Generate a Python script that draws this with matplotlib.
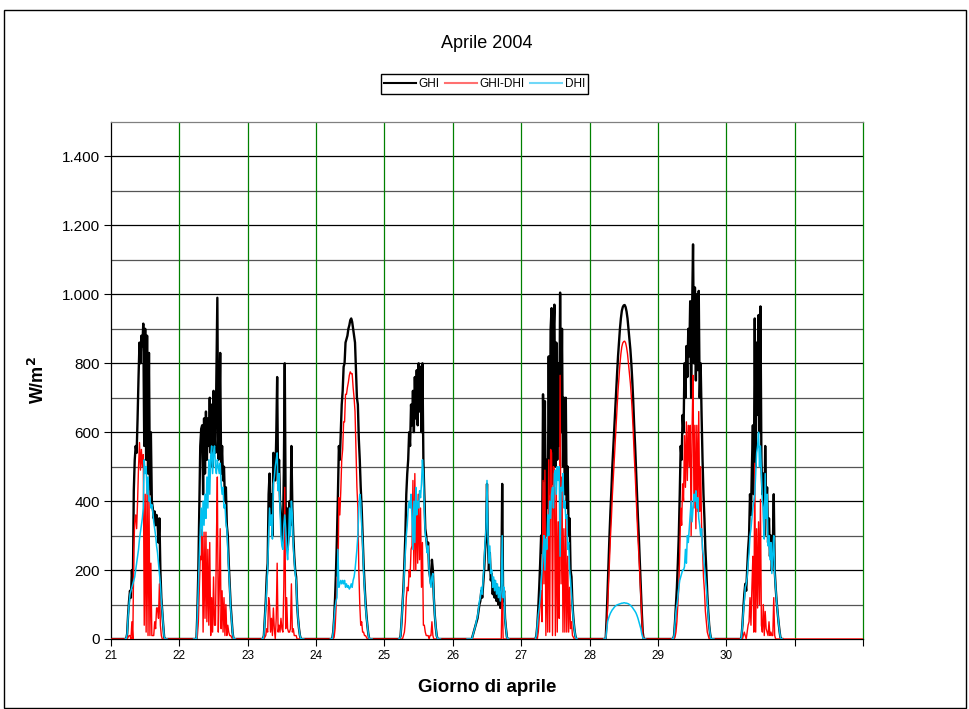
import numpy as np
import matplotlib
matplotlib.use("Agg")
import matplotlib.pyplot as plt
from matplotlib.patches import Rectangle
from matplotlib.ticker import FuncFormatter, MultipleLocator

plt.rcParams['font.family'] = ['Liberation Sans', 'DejaVu Sans']

# sample hours of each day: 5:00 .. 19:40, every 20 min
hours = 5 + np.arange(45) / 3.0

days = [21, 22, 23, 24, 25, 26, 27, 28, 29, 30]

ghi_21 = [0, 0, 15, 70, 110, 140, 120, 200, 150, 430, 520, 560, 540, 640, 760, 860, 800, 880, 850, 915,
          560, 900, 520, 880, 480, 830, 420, 600, 400, 380, 350, 370, 330, 360, 340, 280, 350, 200, 120, 80,
          40, 5, 0, 0, 0]
dhi_21 = [0, 0, 15, 65, 100, 130, 140, 150, 160, 170, 180, 200, 220, 240, 260, 290, 310, 330, 350, 380,
          520, 480, 500, 420, 470, 400, 410, 380, 390, 370, 340, 320, 300, 270, 250, 220, 190, 160, 110, 80,
          40, 5, 0, 0, 0]

ghi_22 = [0, 0, 0, 0, 80, 200, 380, 560, 610, 620, 420, 640, 480, 660, 520, 640, 560, 700, 540, 680,
          500, 720, 600, 540, 760, 990, 520, 620, 830, 480, 560, 460, 500, 400, 440, 330, 300, 220, 160, 100,
          60, 20, 0, 0, 0]
dhi_22 = [0, 0, 0, 0, 70, 150, 240, 320, 380, 300, 400, 330, 420, 350, 470, 380, 520, 420, 530, 560,
          480, 540, 560, 500, 480, 520, 500, 480, 510, 450, 420, 440, 380, 390, 340, 320, 260, 200, 150, 90,
          55, 20, 0, 0, 0]

ghi_23 = [0, 0, 10, 60, 110, 180, 220, 420, 480, 350, 420, 300, 540, 500, 460, 580, 760, 450, 520, 400,
          360, 300, 280, 480, 800, 350, 380, 260, 300, 400, 330, 560, 380, 300, 240, 200, 180, 100, 60, 30,
          10, 0, 0, 0, 0]
dhi_23 = [0, 0, 10, 55, 100, 150, 200, 300, 380, 330, 360, 290, 450, 470, 500, 520, 540, 430, 480, 380,
          300, 270, 260, 330, 360, 320, 260, 230, 280, 380, 300, 400, 360, 270, 230, 190, 170, 100, 60, 30,
          10, 0, 0, 0, 0]

ghi_24 = [0, 0, 0, 20, 60, 120, 200, 300, 420, 560, 520, 600, 680, 720, 790, 800, 860, 870, 880, 900,
          910, 925, 930, 920, 900, 880, 860, 780, 700, 680, 580, 520, 440, 380, 300, 220, 160, 110, 70, 40,
          15, 0, 0, 0, 0]
dhi_24 = [0, 0, 0, 20, 55, 90, 110, 120, 260, 150, 160, 170, 160, 170, 160, 170, 150, 160, 150, 155,
          145, 150, 160, 150, 170, 180, 200, 230, 260, 300, 380, 420, 400, 330, 280, 200, 150, 100, 65, 40,
          15, 0, 0, 0, 0]

ghi_25 = [0, 0, 10, 50, 100, 150, 220, 300, 420, 480, 520, 600, 560, 680, 620, 720, 600, 760, 640, 780,
          620, 800, 660, 790, 600, 800, 520, 420, 320, 300, 260, 280, 200, 180, 160, 230, 200, 120, 70, 35,
          10, 0, 0, 0, 0]
dhi_25 = [0, 0, 10, 50, 100, 140, 200, 250, 300, 330, 380, 400, 380, 420, 350, 260, 400, 280, 440, 360,
          400, 380, 430, 410, 450, 520, 480, 380, 300, 290, 250, 270, 200, 170, 150, 180, 190, 120, 70, 35,
          10, 0, 0, 0, 0]

ghi_26 = [0, 0, 0, 0, 0, 0, 10, 20, 30, 40, 50, 60, 80, 100, 110, 140, 120, 160, 200, 260,
          300, 450, 280, 200, 250, 170, 190, 130, 170, 120, 160, 110, 150, 100, 140, 90, 130, 450, 110, 140,
          60, 30, 5, 0, 0]
dhi_26 = [0, 0, 0, 0, 0, 0, 10, 20, 30, 40, 55, 65, 85, 110, 120, 150, 130, 175, 220, 280,
          320, 460, 300, 220, 270, 190, 200, 150, 180, 140, 170, 130, 160, 120, 150, 110, 140, 300, 120, 150,
          60, 30, 5, 0, 0]

ghi_27 = [0, 10, 40, 90, 150, 220, 300, 250, 710, 460, 690, 300, 520, 380, 820, 420, 900, 960, 450, 880,
          970, 500, 860, 520, 800, 560, 1005, 600, 900, 500, 700, 420, 700, 380, 500, 300, 350, 200, 180, 100,
          60, 30, 10, 0, 0]
dhi_27 = [0, 10, 40, 70, 90, 120, 160, 200, 250, 300, 200, 290, 260, 360, 300, 400, 350, 420, 440, 380,
          480, 490, 420, 500, 460, 500, 240, 440, 430, 480, 380, 400, 350, 360, 260, 280, 200, 170, 130, 90,
          55, 30, 10, 0, 0]

ghi_28 = [0, 0, 0, 60, 140, 220, 300, 370, 430, 500, 555, 610, 665, 715, 770, 820, 860, 900, 930, 952,
          963, 968, 969, 963, 950, 930, 900, 870, 840, 800, 750, 690, 620, 560, 490, 420, 350, 290, 220, 150,
          80, 20, 0, 0, 0]
dhi_28 = [0, 0, 0, 25, 50, 60, 68, 75, 80, 85, 88, 92, 95, 97, 99, 100, 101, 102, 103, 104,
          104, 105, 105, 104, 104, 103, 102, 100, 98, 95, 92, 88, 84, 80, 75, 68, 60, 50, 40, 30,
          15, 5, 0, 0, 0]

ghi_29 = [0, 0, 10, 50, 100, 150, 220, 300, 420, 560, 520, 650, 600, 800, 700, 850, 760, 900, 820, 980,
          700, 950, 1145, 800, 1020, 750, 1000, 780, 1010, 700, 800, 650, 520, 420, 350, 260, 200, 130, 80, 40,
          15, 0, 0, 0, 0]
dhi_29 = [0, 0, 10, 45, 80, 100, 120, 150, 170, 180, 190, 200, 200, 210, 260, 220, 300, 280, 320, 360,
          400, 340, 380, 420, 400, 430, 380, 410, 350, 330, 300, 320, 260, 240, 210, 180, 150, 110, 70, 40,
          15, 0, 0, 0, 0]

ghi_30 = [0, 5, 40, 90, 130, 160, 140, 200, 260, 300, 420, 360, 500, 620, 420, 930, 500, 860, 650, 940,
          600, 965, 520, 420, 480, 300, 560, 380, 440, 280, 350, 240, 300, 200, 260, 420, 200, 150, 110, 80,
          50, 25, 5, 0, 0]
dhi_30 = [0, 5, 40, 80, 110, 150, 160, 180, 220, 250, 300, 320, 350, 380, 400, 420, 480, 540, 560, 600,
          500, 560, 480, 400, 380, 290, 480, 350, 420, 270, 300, 230, 280, 190, 250, 300, 190, 150, 110, 80,
          50, 25, 5, 0, 0]

ghi_days = [ghi_21, ghi_22, ghi_23, ghi_24, ghi_25, ghi_26, ghi_27, ghi_28, ghi_29, ghi_30]
dhi_days = [dhi_21, dhi_22, dhi_23, dhi_24, dhi_25, dhi_26, dhi_27, dhi_28, dhi_29, dhi_30]

x_labels = ['21', '22', '23', '24', '25', '26', '27', '28', '29', '30', '', '']

W, H = 969, 709
fig = plt.figure(figsize=(W / 100, H / 100), dpi=100)
ax = fig.add_axes([111 / W, 1 - 639 / H, (863 - 111) / W, (639 - 122) / H])

BLACK, RED, BLUE = '#000000', '#ff0000', '#00c0f0'

t_all, ghi_all, dhi_all = [], [], []
for d, g, h in zip(days, ghi_days, dhi_days):
    t = d + hours / 24.0
    t_all.append(t)
    ghi_all.append(np.array(g, float))
    dhi_all.append(np.array(h, float))

t_cat = np.concatenate(t_all)
ghi_cat = np.concatenate(ghi_all)
dhi_cat = np.concatenate(dhi_all)
diff_cat = np.clip(ghi_cat - dhi_cat, 0, None)

ax.plot(np.r_[21.0, t_cat], np.r_[0, ghi_cat], color=BLACK, lw=1.7, zorder=3)
ax.plot(np.r_[21.0, t_cat, 32.0], np.r_[0, diff_cat, 0], color=RED, lw=1.0, zorder=4)
for t, h in zip(t_all, dhi_all):
    ax.plot(t, h, color=BLUE, lw=1.1, zorder=5)

# legend handles
ax.plot([], [], color=BLACK, lw=1.5, label='GHI')
ax.plot([], [], color='#ff7070', lw=1.5, label='GHI-DHI')
ax.plot([], [], color='#70d8f8', lw=1.5, label='DHI')
handles, labels = ax.get_legend_handles_labels()
fig.legend(handles, labels, loc='center', bbox_to_anchor=(484.5 / W, 1 - 84 / H), ncol=3,
           fontsize=8.5, handlelength=2.7, handletextpad=0.2, columnspacing=0.5, borderpad=0.3,
           fancybox=False, edgecolor='black', framealpha=1, frameon=True)

ax.set_xlim(21, 32)
ax.set_ylim(0, 1500)
ax.set_xticks(range(21, 33))
ax.set_xticklabels(x_labels)
ax.yaxis.set_major_locator(MultipleLocator(200))
ax.yaxis.set_minor_locator(MultipleLocator(100))
ax.yaxis.set_major_formatter(FuncFormatter(lambda v, p: f"{int(v):,}".replace(',', '.')))
ax.tick_params(axis='y', which='major', labelsize=11, length=5, width=0.8, direction='out', pad=3)
ax.tick_params(axis='y', which='minor', length=0)
ax.tick_params(axis='x', labelsize=8.5, length=5, width=0.8, direction='out', pad=3)

for v in range(100, 1500, 100):
    ax.axhline(v, color='black' if v % 200 == 0 else '#555555', lw=0.9, zorder=1)
for d in range(22, 32):
    ax.axvline(d, color='#008000', lw=0.9, zorder=1)

ax.spines['top'].set_color('#808080')
ax.spines['right'].set_color('#008000')
for s in ax.spines.values():
    s.set_linewidth(0.9)

fig.text(487 / W, 1 - 44 / H, 'Aprile 2004', fontsize=13, ha='center', va='center')
fig.text(487 / W, 1 - 687 / H, 'Giorno di aprile', fontsize=13.5, fontweight='bold', ha='center', va='center')
fig.text(38 / W, 1 - 380 / H, 'W/m$^\\mathbf{2}$', fontsize=13, fontweight='bold', rotation=90,
         ha='center', va='center')

fig.patches.append(Rectangle((4 / W, 1 / H), (966 - 4) / W, (708 - 10) / H, transform=fig.transFigure,
                             fill=False, edgecolor='black', lw=1))

fig.savefig('out.png', dpi=100)
